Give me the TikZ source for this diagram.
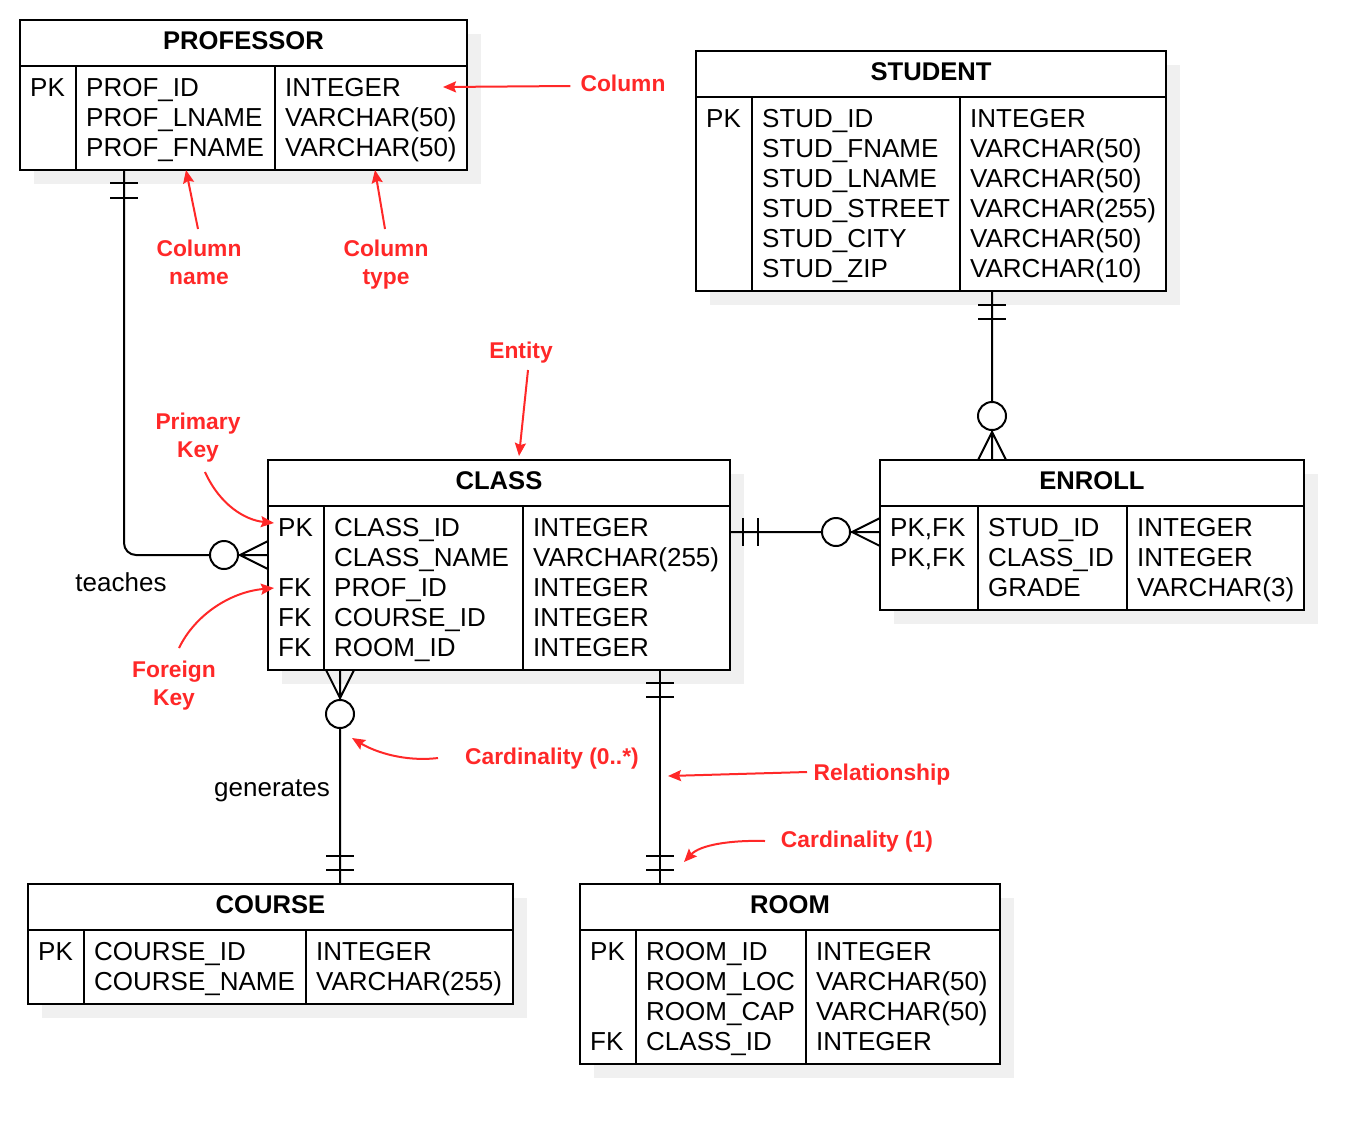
\documentclass[tikz,border=0pt]{standalone}
\usepackage{fontspec}
\setmainfont{Liberation Sans}
\usetikzlibrary{arrows.meta}
\definecolor{annot}{RGB}{255,40,40}
\definecolor{shadowgray}{RGB}{240,240,240}
\begin{document}
\begin{tikzpicture}[x=1pt,y=-1pt,
  ln/.style={line width=2pt, black},
  ent/.style={draw, line width=2pt, fill=white, anchor=north west, inner sep=0, outer sep=0},
  txt/.style={anchor=base west, inner sep=0, font=\fontsize{26}{30}\selectfont},
  ttl/.style={anchor=base, inner sep=0, font=\fontsize{25.6}{30}\selectfont\bfseries},
  lab/.style={anchor=base, inner sep=0, font=\fontsize{26}{30}\selectfont},
  note/.style={anchor=base, inner sep=0, text=annot, font=\fontsize{22.8}{28}\selectfont\bfseries},
  arr/.style={draw=annot, line width=2pt, -{Stealth[length=13pt,width=11pt,inset=2pt]}},
  circ/.style={draw, line width=2pt, fill=white, circle, minimum size=28pt, inner sep=0, outer sep=0},
  shadowbox/.style={fill=shadowgray, draw=none}
]
\useasboundingbox (0,0) rectangle (1354,1144);

% ---------- shadows ----------
\path[shadowbox] (34,34) rectangle (481,184);
\path[shadowbox] (710,65) rectangle (1180,305);
\path[shadowbox] (282,474) rectangle (744,684);
\path[shadowbox] (894,474) rectangle (1318,624);
\path[shadowbox] (42,898) rectangle (527,1018);
\path[shadowbox] (594,898) rectangle (1014,1078);

% ---------- PROFESSOR ----------
\node[ent, minimum width=447pt, minimum height=150pt] (prof) at (20,20) {};
\draw[ln] (20,66) -- (467,66) (76,66) -- (76,170) (275,66) -- (275,170);
\node[ttl] (prof-t) at (243.5,49) {PROFESSOR};
\node[txt] (prof-k1) at (30,96) {PK};
\foreach \t [count=\i from 0] in {PROF\_ID, PROF\_LNAME, PROF\_FNAME}
  \node[txt] (prof-n\i) at (86,96+30*\i) {\t};
\foreach \t [count=\i from 0] in {INTEGER, VARCHAR(50), VARCHAR(50)}
  \node[txt] (prof-y\i) at (285,96+30*\i) {\t};

% ---------- STUDENT ----------
\node[ent, minimum width=470pt, minimum height=240pt] (stud) at (696,51) {};
\draw[ln] (696,97) -- (1166,97) (752,97) -- (752,291) (960,97) -- (960,291);
\node[ttl] (stud-t) at (931,80) {STUDENT};
\node[txt] (stud-k1) at (706,127) {PK};
\foreach \t [count=\i from 0] in {STUD\_ID, STUD\_FNAME, STUD\_LNAME, STUD\_STREET, STUD\_CITY, STUD\_ZIP}
  \node[txt] (stud-n\i) at (762,127+30*\i) {\t};
\foreach \t [count=\i from 0] in {INTEGER, VARCHAR(50), VARCHAR(50), VARCHAR(255), VARCHAR(50), VARCHAR(10)}
  \node[txt] (stud-y\i) at (970,127+30*\i) {\t};

% ---------- CLASS ----------
\node[ent, minimum width=462pt, minimum height=210pt] (class) at (268,460) {};
\draw[ln] (268,506) -- (730,506) (324,506) -- (324,670) (523,506) -- (523,670);
\node[ttl] (class-t) at (499,489) {CLASS};
\node[txt] (class-k1) at (278,536) {PK};
\foreach \t [count=\i from 2] in {FK, FK, FK}
  \node[txt] (class-k\i) at (278,536+30*\i) {\t};
\foreach \t [count=\i from 0] in {CLASS\_ID, CLASS\_NAME, PROF\_ID, COURSE\_ID, ROOM\_ID}
  \node[txt] (class-n\i) at (334,536+30*\i) {\t};
\foreach \t [count=\i from 0] in {INTEGER, VARCHAR(255), INTEGER, INTEGER, INTEGER}
  \node[txt] (class-y\i) at (533,536+30*\i) {\t};

% ---------- ENROLL ----------
\node[ent, minimum width=424pt, minimum height=150pt] (enroll) at (880,460) {};
\draw[ln] (880,506) -- (1304,506) (978,506) -- (978,610) (1127,506) -- (1127,610);
\node[ttl] (enroll-t) at (1092,489) {ENROLL};
\node[txt] (enroll-k1) at (890,536) {PK,FK};
\node[txt] (enroll-k2) at (890,566) {PK,FK};
\foreach \t [count=\i from 0] in {STUD\_ID, CLASS\_ID, GRADE}
  \node[txt] (enroll-n\i) at (988,536+30*\i) {\t};
\foreach \t [count=\i from 0] in {INTEGER, INTEGER, VARCHAR(3)}
  \node[txt] (enroll-y\i) at (1137,536+30*\i) {\t};

% ---------- COURSE ----------
\node[ent, minimum width=485pt, minimum height=120pt] (course) at (28,884) {};
\draw[ln] (28,930) -- (513,930) (84,930) -- (84,1004) (306,930) -- (306,1004);
\node[ttl] (course-t) at (270.5,913) {COURSE};
\node[txt] (course-k1) at (38,960) {PK};
\foreach \t [count=\i from 0] in {COURSE\_ID, COURSE\_NAME}
  \node[txt] (course-n\i) at (94,960+30*\i) {\t};
\foreach \t [count=\i from 0] in {INTEGER, VARCHAR(255)}
  \node[txt] (course-y\i) at (316,960+30*\i) {\t};

% ---------- ROOM ----------
\node[ent, minimum width=420pt, minimum height=180pt] (room) at (580,884) {};
\draw[ln] (580,930) -- (1000,930) (636,930) -- (636,1064) (806,930) -- (806,1064);
\node[ttl] (room-t) at (790,913) {ROOM};
\node[txt] (room-k1) at (590,960) {PK};
\node[txt] (room-k4) at (590,1050) {FK};
\foreach \t [count=\i from 0] in {ROOM\_ID, ROOM\_LOC, ROOM\_CAP, CLASS\_ID}
  \node[txt] (room-n\i) at (646,960+30*\i) {\t};
\foreach \t [count=\i from 0] in {INTEGER, VARCHAR(50), VARCHAR(50), INTEGER}
  \node[txt] (room-y\i) at (816,960+30*\i) {\t};

% ---------- relationship end points ----------
\coordinate (pA) at (124,170);   % professor side
\coordinate (cA) at (268,555);   % class side (teaches)
\coordinate (cB) at (340,670);   % class side (generates)
\coordinate (coB) at (340,884);  % course side
\coordinate (cC) at (660,670);   % class side (room)
\coordinate (rC) at (660,884);   % room side
\coordinate (cD) at (730,532);   % class side (enroll)
\coordinate (eD) at (880,532);   % enroll side
\coordinate (sE) at (992,291);   % student side
\coordinate (eE) at (992,460);   % enroll side

% teaches: PROFESSOR 1 -- 0..* CLASS
\node[circ] (o1) at (224,555) {};
\draw[ln, rounded corners=12pt] (pA) -- (124,555) -- (o1.west);
\draw[ln] (o1.east) -- (cA) (240,555) -- (268,541) (240,555) -- (268,569);
\draw[ln] (110,183) -- (138,183) (110,198) -- (138,198);
\node[lab] (teaches) at (121,591) {teaches};

% generates: CLASS 0..* -- 1 COURSE
\node[circ] (o2) at (340,714) {};
\draw[ln] (cB) -- (o2.north) (326,670) -- (340,698) -- (354,670) (o2.south) -- (coB);
\draw[ln] (326,856) -- (354,856) (326,870) -- (354,870);
\node[lab] (generates) at (272,796) {generates};

% CLASS 1 -- 1 ROOM
\draw[ln] (cC) -- (rC);
\draw[ln] (646,683) -- (674,683) (646,697) -- (674,697);
\draw[ln] (646,856) -- (674,856) (646,870) -- (674,870);

% CLASS 1 -- 0..* ENROLL
\node[circ] (o4) at (836,532) {};
\draw[ln] (cD) -- (o4.west) (o4.east) -- (eD) (852,532) -- (880,518) (852,532) -- (880,546);
\draw[ln] (743,518) -- (743,546) (758,518) -- (758,546);

% STUDENT 1 -- 0..* ENROLL
\node[circ] (o5) at (992,416) {};
\draw[ln] (sE) -- (o5.north) (o5.south) -- (eE) (992,432) -- (978,460) (992,432) -- (1006,460);
\draw[ln] (978,305) -- (1006,305) (978,319) -- (1006,319);

% ---------- annotations ----------
\node[note] (a-col) at (623,91) {Column};
\draw[arr] (a-col.west |- 0,86) ++(-10,0) -- (443,87);

\node[note] (a-cn1) at (199,256) {Column};
\node[note] (a-cn2) at (199,284) {name};
\draw[arr] (198,229) -- (186,170);

\node[note] (a-ct1) at (386,256) {Column};
\node[note] (a-ct2) at (386,284) {type};
\draw[arr] (385,229) -- (375,170);

\node[note] (a-ent) at (521,358) {Entity};
\draw[arr] (528,370) -- (519,456);

\node[note] (a-pk1) at (198,429) {Primary};
\node[note] (a-pk2) at (198,457) {Key};
\draw[arr] (205,472) .. controls (220,505) and (245,520) .. (274,523);

\node[note] (a-fk1) at (174,677) {Foreign};
\node[note] (a-fk2) at (174,705) {Key};
\draw[arr] (179,648) .. controls (195,615) and (230,592) .. (274,588);

\node[note] (a-c0) at (552,764) {Cardinality (0..*)};
\draw[arr] (438,758) .. controls (405,762) and (375,752) .. (352,738);

\node[note] (a-rel) at (882,780) {Relationship};
\draw[arr] (807,772) -- (668,776);

\node[note] (a-c1) at (857,847) {Cardinality (1)};
\draw[arr] (765,841) .. controls (730,840) and (700,845) .. (684,862);

\end{tikzpicture}
\end{document}
